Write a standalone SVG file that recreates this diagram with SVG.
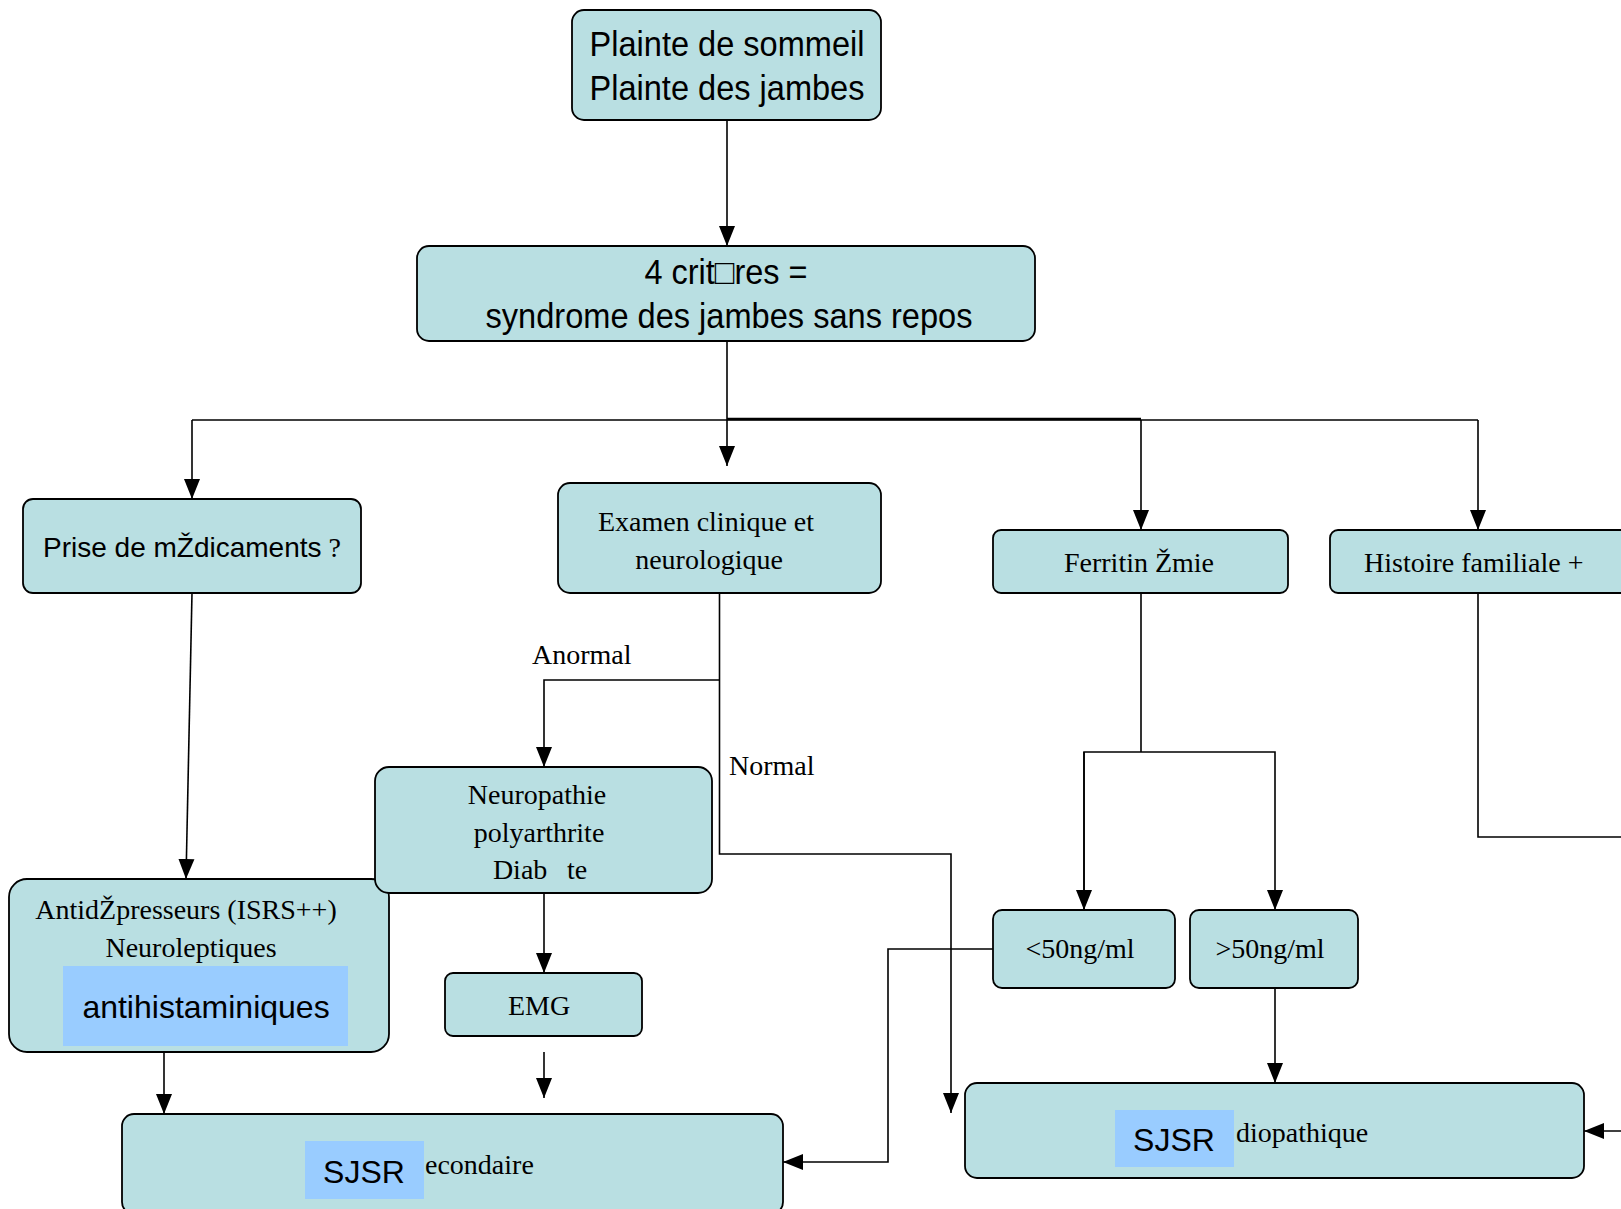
<svg xmlns="http://www.w3.org/2000/svg" width="1621" height="1209" viewBox="0 0 1621 1209">
<style>
.box{fill:#b9dfe2;stroke:#000;stroke-width:1.8}
.hl{fill:#99ccff}
.sans{font-family:"Liberation Sans",Arial,sans-serif;fill:#000}
.serif{font-family:"Liberation Serif","Times New Roman",serif;fill:#000;font-size:28px}
.c{text-anchor:middle}
.ln{fill:none;stroke:#000;stroke-width:1.6}
</style>
<defs>
<marker id="ah" markerUnits="userSpaceOnUse" markerWidth="20" markerHeight="20" viewBox="0 0 20 20" refX="20" refY="10" orient="auto">
<path d="M0,2 L20,10 L0,18 Z" fill="#000"/>
</marker>
</defs>
<rect width="1621" height="1209" fill="#fff"/>

<g id="connectors">
<line class="ln" x1="727" y1="120" x2="727" y2="246" marker-end="url(#ah)"/>
<line class="ln" x1="727" y1="341" x2="727" y2="420"/>
<line class="ln" x1="192" y1="420" x2="1478" y2="420"/>
<line x1="727" y1="419" x2="1141" y2="419" stroke="#000" stroke-width="2.6"/>
<line class="ln" x1="192" y1="420" x2="192" y2="499" marker-end="url(#ah)"/>
<line class="ln" x1="727" y1="420" x2="727" y2="466" marker-end="url(#ah)"/>
<line class="ln" x1="1141" y1="420" x2="1141" y2="530" marker-end="url(#ah)"/>
<line class="ln" x1="1478" y1="420" x2="1478" y2="530" marker-end="url(#ah)"/>
<line class="ln" x1="192" y1="593" x2="186" y2="879" marker-end="url(#ah)"/>
<polyline class="ln" points="719.5,593 719.5,854 951,854 951,1113" marker-end="url(#ah)"/>
<polyline class="ln" points="719.5,680 544,680 544,767" marker-end="url(#ah)"/>
<line class="ln" x1="544" y1="893" x2="544" y2="973" marker-end="url(#ah)"/>
<line class="ln" x1="544" y1="1052" x2="544" y2="1098" marker-end="url(#ah)"/>
<line class="ln" x1="164" y1="1052" x2="164" y2="1114" marker-end="url(#ah)"/>
<polyline class="ln" points="1141,593 1141,752"/>
<polyline class="ln" points="1084,910 1084,752 1275,752 1275,910" marker-end="url(#ah)"/>
<line class="ln" x1="1084" y1="752" x2="1084" y2="910" marker-end="url(#ah)"/>
<line class="ln" x1="1275" y1="988" x2="1275" y2="1083" marker-end="url(#ah)"/>
<polyline class="ln" points="993,949 888,949 888,1162 783,1162" marker-end="url(#ah)"/>
<polyline class="ln" points="1478,593 1478,837 1621,837"/>
<line class="ln" x1="1621" y1="1131" x2="1584" y2="1131" marker-end="url(#ah)"/>
</g>

<g id="n-plainte">
<rect class="box" x="572" y="10" width="309" height="110" rx="12"/>
<text class="sans c" x="727" y="56" font-size="35" textLength="275" lengthAdjust="spacingAndGlyphs">Plainte de sommeil</text>
<text class="sans c" x="727" y="100" font-size="35" textLength="275" lengthAdjust="spacingAndGlyphs">Plainte des jambes</text>
</g>

<g id="n-criteres">
<rect class="box" x="417" y="246" width="618" height="95" rx="12"/>
<text class="sans c" x="726" y="284" font-size="35" textLength="163" lengthAdjust="spacingAndGlyphs">4 crit□res =</text>
<text class="sans c" x="729" y="328" font-size="35" textLength="487" lengthAdjust="spacingAndGlyphs">syndrome des jambes sans repos</text>
</g>

<g id="n-prise">
<rect class="box" x="23" y="499" width="338" height="94" rx="10"/>
<text class="sans" x="43" y="557" font-size="28">Prise de mŽdicaments<tspan class="serif" font-size="26"> ?</tspan></text>
</g>

<g id="n-examen">
<rect class="box" x="558" y="483" width="323" height="110" rx="12"/>
<text class="serif c" x="706" y="531">Examen clinique et</text>
<text class="serif c" x="709" y="569">neurologique</text>
</g>

<g id="n-ferritin">
<rect class="box" x="993" y="530" width="295" height="63" rx="8"/>
<text class="serif c" x="1139" y="572">Ferritin Žmie</text>
</g>

<g id="n-histoire">
<rect class="box" x="1330" y="530" width="300" height="63" rx="8"/>
<text class="serif" x="1364" y="572">Histoire familiale +</text>
</g>

<g id="lbl-anormal"><text class="serif" x="532" y="664">Anormal</text></g>
<g id="lbl-normal"><text class="serif" x="729" y="775">Normal</text></g>

<g id="n-antidep">
<rect class="box" x="9" y="879" width="380" height="173" rx="18"/>
<text class="serif c" x="186" y="919">AntidŽpresseurs (ISRS++)</text>
<text class="serif c" x="191" y="957">Neuroleptiques</text>
<rect class="hl" x="63" y="966" width="285" height="80"/>
<text class="sans c" x="206" y="1018" font-size="32">antihistaminiques</text>
</g>

<g id="n-neuro">
<rect class="box" x="375" y="767" width="337" height="126" rx="14"/>
<text class="serif c" x="537" y="804">Neuropathie</text>
<text class="serif c" x="539" y="842">polyarthrite</text>
<text class="serif c" x="540" y="879" xml:space="preserve">Diab  &#8201;te</text>
</g>

<g id="n-emg">
<rect class="box" x="445" y="973" width="197" height="63" rx="8"/>
<text class="serif c" x="539" y="1015">EMG</text>
</g>

<g id="n-inf50">
<rect class="box" x="993" y="910" width="182" height="78" rx="9"/>
<text class="serif c" x="1080" y="958">&lt;50ng/ml</text>
</g>

<g id="n-sup50">
<rect class="box" x="1190" y="910" width="168" height="78" rx="9"/>
<text class="serif c" x="1270" y="958">&gt;50ng/ml</text>
</g>

<g id="n-sjsr-sec">
<rect class="box" x="122" y="1114" width="661" height="100" rx="12"/>
<rect class="hl" x="305" y="1141" width="119" height="58"/>
<text class="sans c" x="364" y="1183" font-size="32">SJSR</text>
<text class="serif" x="425" y="1174">econdaire</text>
</g>

<g id="n-sjsr-idio">
<rect class="box" x="965" y="1083" width="619" height="95" rx="12"/>
<rect class="hl" x="1115" y="1110" width="119" height="57"/>
<text class="sans c" x="1174" y="1151" font-size="32">SJSR</text>
<text class="serif" x="1236" y="1142">diopathique</text>
</g>
</svg>
